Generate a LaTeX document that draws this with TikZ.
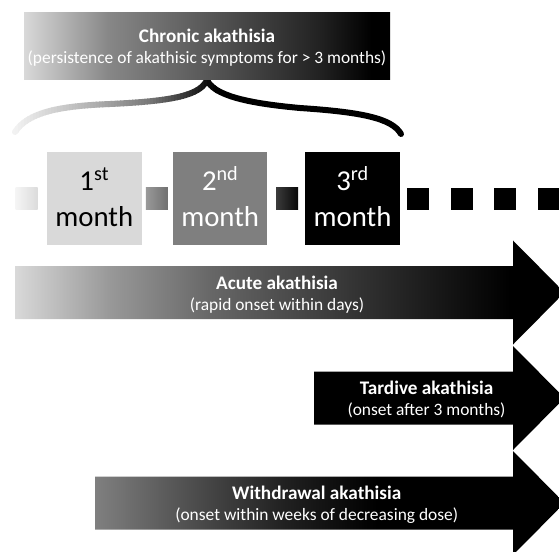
\documentclass[tikz,border=0pt]{standalone}
\usepackage{fontspec}
\setmainfont{Carlito}
\pgfdeclarehorizontalshading{fadeA}{100bp}{color(0bp)=(black!15); color(25bp)=(black!15); color(33.5bp)=(black!40); color(43bp)=(black!60); color(56bp)=(black!80); color(70bp)=(black); color(100bp)=(black)}
\pgfdeclarehorizontalshading{fadeC}{100bp}{color(0bp)=(black!15); color(25bp)=(black!15); color(36.5bp)=(black!47); color(51bp)=(black!67); color(65.5bp)=(black!87); color(72.5bp)=(black); color(100bp)=(black)}
\pgfdeclarehorizontalshading{fadeW}{100bp}{color(0bp)=(black!50); color(25bp)=(black!50); color(35bp)=(black!69); color(45bp)=(black!87); color(55bp)=(black); color(100bp)=(black)}
\definecolor{mone}{HTML}{D9D9D9}
\definecolor{mtwo}{HTML}{7F7F7F}
\def\mybrace{(15,132) .. controls (28,112) and (60,106) .. (110,104) .. controls (175,101) and (200,95) .. (207,80) .. controls (214,95) and (245,103) .. (300,108) .. controls (360,112) and (392,118) .. (401,134)}
\begin{document}
\begin{tikzpicture}[x=1pt,y=-1pt,
  ttl/.style={font=\fontsize{19.2}{21}\selectfont\bfseries, text=white, anchor=base, inner sep=0pt},
  sub/.style={font=\fontsize{17.4}{20}\selectfont, text=white, anchor=base, inner sep=0pt},
  mon/.style={font=\fontsize{28.8}{32}\selectfont, anchor=base, inner sep=0pt},
  monthbox/.style={rectangle, minimum width=94.5pt, minimum height=93pt, inner sep=0pt},
  sq/.style={rectangle, minimum size=22pt, inner sep=0pt},
  bracestroke/.style={line width=6pt, line cap=round}]
\useasboundingbox (0,0) rectangle (559,551);
\clip (0,0) rectangle (559,551);

% brace (gradient by strips)
\foreach \xa in {0,3,...,213} {
  \pgfmathsetmacro\myxc{\xa+1.5}
  \pgfmathsetmacro\mygval{max(0,min(242,242-(\myxc-15)*0.847,170-(\myxc-100)*1.02,119-(\myxc-150)*1.83))/255}
  \definecolor{bracecol}{gray}{\mygval}
  \begin{scope}
    \clip (\xa,60) rectangle (\xa+3.6,145);
    \draw[bracestroke, color=bracecol] \mybrace;
  \end{scope}
}
\begin{scope}
  \clip (215,60) rectangle (420,145);
  \draw[bracestroke, black] \mybrace;
\end{scope}

% chronic box
\node[rectangle, minimum width=366pt, minimum height=66pt, inner sep=0pt, shade, shading=fadeC] (chr) at (207,46) {};
\node[ttl] (chT) at (207,42.7) {Chronic akathisia};
\node[sub] (chS) at (207,63.3) {(persistence of akathisic symptoms for > 3 months)};

% timeline
\node[sq, left color=black!4, right color=black!14] (s1) at (26.5,198.5) {};
\node[monthbox, fill=mone] (b1) at (94.25,198.5) {};
\node[sq, left color=black!40, right color=black!56] (s2) at (156.8,198.5) {};
\node[monthbox, fill=mtwo] (b2) at (220.2,198.5) {};
\node[sq, left color=black!77, right color=black!97] (s3) at (287.2,198.5) {};
\node[monthbox, fill=black] (b3) at (352.5,198.5) {};
\node[sq, fill=black] (s4) at (418,198.5) {};
\node[sq, fill=black] (s5) at (461.5,198.5) {};
\node[sq, fill=black] (s6) at (505.2,198.5) {};
\node[sq, fill=black] (s7) at (548.5,198.5) {};

\node[mon, text=black] (t1a) at (94.25,190) {1\textsuperscript{st}};
\node[mon, text=black] (t1b) at (94.25,226) {month};
\node[mon, text=white] (t2a) at (220.2,190) {2\textsuperscript{nd}};
\node[mon, text=white] (t2b) at (220.2,226) {month};
\node[mon, text=white] (t3a) at (352.5,190) {3\textsuperscript{rd}};
\node[mon, text=white] (t3b) at (352.5,226) {month};

% acute arrow
\shade[shading=fadeA] (15.3,266) -- (513,266) -- (513,240.5) -- (564.5,292.5) -- (513,344.5) -- (513,319) -- (15.3,319) -- cycle;
\node[ttl] (acT) at (277,289) {Acute akathisia};
\node[sub] (acS) at (277,310) {(rapid onset within days)};

% tardive arrow
\fill[black] (314,371.5) -- (513,371.5) -- (513,346) -- (564.5,398) -- (513,450) -- (513,424.5) -- (314,424.5) -- cycle;
\node[ttl] (taT) at (426.5,394) {Tardive akathisia};
\node[sub] (taS) at (426.5,415) {(onset after 3 months)};

% withdrawal arrow
\shade[shading=fadeW] (95,476.5) -- (513,476.5) -- (513,451) -- (564.5,503) -- (513,555) -- (513,529.5) -- (95,529.5) -- cycle;
\node[ttl] (wiT) at (316.7,499) {Withdrawal akathisia};
\node[sub] (wiS) at (316.7,520) {(onset within weeks of decreasing dose)};
\end{tikzpicture}
\end{document}
